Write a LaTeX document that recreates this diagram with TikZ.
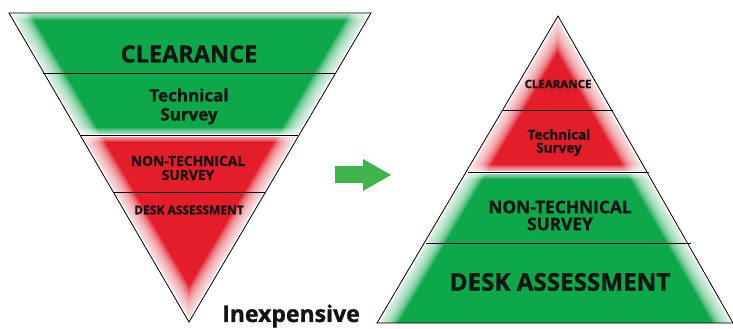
\documentclass[tikz,border=0pt]{standalone}
\usepackage{fontspec}
\setmainfont[BoldFeatures={FakeBold=1.2}]{Open Sans}
\definecolor{gr}{HTML}{0DA84A}
\definecolor{rd}{HTML}{E31E2A}
\definecolor{arr}{HTML}{3DB54A}
% #1 band outline, #2 colour, #3 slanted edges, #4 horizontal edges
\newcommand\fadeband[4]{%
  \begin{scope}
    \clip #1;
    \fill[#2] #1;
    \foreach \w in {4,6,...,36}{\draw[white,line width=\w pt,opacity=0.11] #3;}
    \draw[white,line width=4pt] #3;
    \foreach \w in {2,4,...,14}{\draw[white,line width=\w pt,opacity=0.14] #4;}
    \draw[white,line width=3pt] #4;
  \end{scope}}
\tikzset{lab/.style={font=\bfseries, align=center, inner sep=0pt, text=black!92},
  edge/.style={line width=0.8pt}}
\begin{document}
\begin{tikzpicture}[x=1pt,y=-1pt]
\useasboundingbox (0,0) rectangle (733,329);
% left inverted triangle
\fadeband{(9,13) -- (371,13) -- (298,135) -- (80,135) -- cycle}{gr}
  {(-9,-18) -- (207,353) (389,-18) -- (171,353)}{(-20,13) -- (400,13) (-20,135) -- (400,135)}
\fadeband{(80,135) -- (298,135) -- (189,322) -- cycle}{rd}
  {(-9,-18) -- (207,353) (389,-18) -- (171,353)}{(-20,135) -- (400,135)}
\draw[edge] (9,13) -- (371,13) -- (189,322) -- cycle;
\draw[edge] (43,73) -- (336,73);
\draw[edge] (80,135) -- (298,135);
\draw[edge] (114,192) -- (266,192);
% right triangle
\fadeband{(558,16) -- (649,172) -- (468,172) -- cycle}{rd}
  {(576,-15) -- (359,354) (540,-15) -- (751,354)}{(360,172) -- (760,172)}
\fadeband{(468,172) -- (649,172) -- (733,323) -- (377,323) -- cycle}{gr}
  {(576,-15) -- (359,354) (540,-15) -- (751,354)}{(360,172) -- (760,172)}
\draw[edge] (558,16) -- (733,323) -- (377,323) -- cycle;
\draw[edge] (503,110) -- (613,110);
\draw[edge] (468,172) -- (649,172);
\draw[edge] (426,243) -- (691,243);
% arrow
\fill[arr] (335,166) -- (363,166) -- (363,159) -- (391,175) -- (363,191) -- (363,183) -- (335,183) -- cycle;
% left labels
\node[lab, font=\bfseries\fontsize{23.5}{24}\selectfont] (lcl) at (189,54) {CLEARANCE};
\node[lab, font=\bfseries\fontsize{17}{19}\selectfont] (lts) at (189,106.5) {Technical\\Survey};
\node[lab, font=\bfseries\fontsize{13.8}{14}\selectfont] (lnt) at (188,168) {NON-TECHNICAL\\SURVEY};
\node[lab, font=\bfseries\fontsize{12}{12}\selectfont] (lda) at (189,210) {DESK ASSESSMENT};
% right labels
\node[lab, font=\bfseries\fontsize{11.5}{11}\selectfont] (rcl) at (558,84) {CLEARANCE};
\node[lab, font=\bfseries\fontsize{13.5}{13}\selectfont] (rts) at (559,142.5) {Technical\\Survey};
\node[lab, font=\bfseries\fontsize{17.3}{17}\selectfont] (rnt) at (560,215.5) {NON-TECHNICAL\\SURVEY};
\node[lab, font=\bfseries\fontsize{24.2}{24}\selectfont] (rda) at (560,282) {DESK ASSESSMENT};
\node[lab, font=\bfseries\fontsize{23}{22}\selectfont] (inx) at (291,316) {Inexpensive};
\end{tikzpicture}
\end{document}
